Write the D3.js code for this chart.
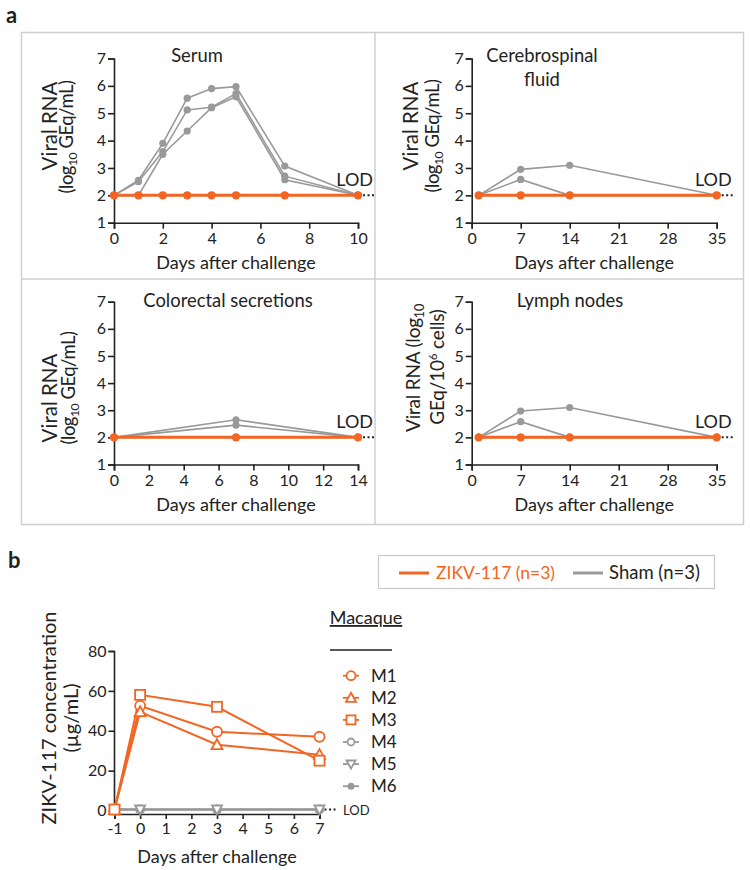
<!DOCTYPE html>
<html><head><meta charset="utf-8">
<script src="https://cdn.jsdelivr.net/npm/d3@7"></script>
<style>body{margin:0;background:#fff}svg{display:block}text{font-family:Lato,"Open Sans",sans-serif;fill:#222}</style>
</head><body>
<svg id="c" width="750" height="870"></svg>
<script>
// ---------- DATA ----------
const serumDays = [0,1,2,3,4,5,7,10];
const serumSham1 = [2,2.55,3.9,5.55,5.9,5.97,3.07,2];
const serumSham2 = [2,2.5,3.6,5.12,5.22,5.72,2.7,2];
const serumSham3 = [2,2.0,3.5,4.35,5.2,5.6,2.57,2];
const serumZikv  = [2,2,2,2,2,2,2,2];

const csfDays = [1,7,14,35];
const csfSham1 = [2,2.95,3.1,2];
const csfSham2 = [2,2.58,2,2];
const csfSham3 = [2,2,2,2];
const csfZikv  = [2,2,2,2];

const crDays = [0,7,14];
const crSham1 = [2,2.65,2];
const crSham2 = [2,2.45,2];
const crSham3 = [2,2,2];
const crZikv  = [2,2,2];

const lnDays = [1,7,14,35];
const lnSham1 = [2,2.97,3.1,2];
const lnSham2 = [2,2.58,2,2];
const lnSham3 = [2,2,2,2];
const lnZikv  = [2,2,2,2];

const yTicksA = [1,2,3,4,5,6,7];
const serumTicks = [0,2,4,6,8,10];
const weekTicks = [0,7,14,21,28,35];
const crTicks = [0,2,4,6,8,10,12,14];

const bDays = [-1,0,3,7];
const bM1 = [0.5,52.5,39.5,37];
const bM2 = [0.5,49.5,33,28];
const bM3 = [0.5,58,52,25];
const bM4 = [0.5,0.5,0.5,0.5];
const bM5 = [0.5,0.5,0.5,0.5];
const bM6 = [0.5,0.5,0.5,0.5];
const bXTicks = [-1,0,1,2,3,4,5,6,7];
const bYTicks = [0,20,40,60,80];
const macaques = ["M1","M2","M3","M4","M5","M6"];

const ORANGE = "#f26522", GRAY = "#999999", AX = "#222";
const fmt = d => String(d).replace("\u2212","-");

// ---------- DRAW ----------
const svg = d3.select("#c");
svg.append("text").attr("x",6).attr("y",23).attr("font-size",22).attr("font-weight","bold").text("a");
svg.append("text").attr("x",8).attr("y",568).attr("font-size",22).attr("font-weight","bold").text("b");

// panel a frame
svg.append("rect").attr("x",21.5).attr("y",32.5).attr("width",722).attr("height",492).attr("fill","none").attr("stroke","#cfcfcf").attr("stroke-width",1.5);
svg.append("line").attr("x1",375).attr("x2",375).attr("y1",32.5).attr("y2",524.5).attr("stroke","#cfcfcf").attr("stroke-width",1.5);
svg.append("line").attr("x1",21.5).attr("x2",743.5).attr("y1",279).attr("y2",279).attr("stroke","#cfcfcf").attr("stroke-width",1.5);

function ylabel(g, x, y, lines, sizes, ls){
  lines.forEach((parts,i)=>{
    const fs = sizes[i];
    const t = g.append("text").attr("transform",`translate(${x[i]},${y[i]}) rotate(-90)`).attr("text-anchor","middle").attr("font-size",fs);
    if(ls && ls[i]) t.attr("letter-spacing",ls[i]);
    parts.forEach(p=>{
      const ts = t.append("tspan").text(p.t);
      if(p.sub){ts.attr("font-size",fs*0.66).attr("dy",4);}
      if(p.sup){ts.attr("font-size",fs*0.62).attr("dy",-7);}
      if(p.back){ts.attr("dy",p.back);}
    });
  });
}

function panel(cfg){
  const g = svg.append("g");
  const x = d3.scaleLinear().domain(cfg.xd).range([cfg.x0,cfg.x1]);
  const y = d3.scaleLinear().domain([1,7]).range([cfg.yb,cfg.yt]);
  const ya = g.append("g").attr("transform",`translate(${cfg.x0},0)`).call(d3.axisLeft(y).tickValues(yTicksA).tickSize(6).tickPadding(2).tickFormat(fmt));
  const xa = g.append("g").attr("transform",`translate(0,${cfg.yb})`).call(d3.axisBottom(x).tickValues(cfg.ticks).tickSize(6).tickPadding(4).tickFormat(fmt));
  [ya,xa].forEach(a=>{a.select(".domain").attr("stroke",AX).attr("stroke-width",1.6);
    a.selectAll(".tick line").attr("stroke",AX).attr("stroke-width",1.6);
    a.selectAll(".tick text").attr("font-size",16).attr("fill","#222").attr("font-family","Lato");});
  g.append("text").attr("x",(cfg.x0+cfg.x1)/2).attr("y",cfg.yb+46).attr("text-anchor","middle").attr("font-size",18).text("Days after challenge");
  cfg.title.forEach((t,i)=>g.append("text").attr("x",cfg.tx).attr("y",cfg.ty+i*24).attr("text-anchor","middle").attr("font-size",18.4).text(t));
  const line = d3.line().x(d=>x(d[0])).y(d=>y(d[1]));
  cfg.sham.forEach(s=>{
    const pts = cfg.days.map((d,i)=>[d,s[i]]);
    g.append("path").attr("d",line(pts)).attr("fill","none").attr("stroke",GRAY).attr("stroke-width",1.6);
    g.selectAll(null).data(pts).join("circle").attr("cx",d=>x(d[0])).attr("cy",d=>y(d[1])).attr("r",3.6).attr("fill",GRAY);
  });
  const zp = cfg.days.map((d,i)=>[d,cfg.zikv[i]]);
  g.append("path").attr("d",line(zp)).attr("fill","none").attr("stroke",ORANGE).attr("stroke-width",3);
  g.selectAll(null).data(zp).join("circle").attr("cx",d=>x(d[0])).attr("cy",d=>y(d[1])).attr("r",4.2).attr("fill",ORANGE);
  // LOD
  g.append("line").attr("x1",x(cfg.xd[1])+5).attr("x2",x(cfg.xd[1])+18).attr("y1",y(2)).attr("y2",y(2)).attr("stroke",AX).attr("stroke-width",2).attr("stroke-dasharray","2,2.5");
  g.append("text").attr("x",x(cfg.xd[1])+15).attr("y",y(2)-9).attr("text-anchor","end").attr("font-size",18).text("LOD");
  return g;
}

const top0=58.5, top1=222.7, bot0=301.7, bot1=464.5;
const L0=114, L1=358, R0=471.7, R1=716.7;

panel({x0:L0,x1:L1,yt:top0,yb:top1,xd:[0,10],ticks:serumTicks,days:serumDays,sham:[serumSham1,serumSham2,serumSham3],zikv:serumZikv,title:["Serum"],tx:197,ty:62});
panel({x0:R0,x1:R1,yt:top0,yb:top1,xd:[0,35],ticks:weekTicks,days:csfDays,sham:[csfSham1,csfSham2,csfSham3],zikv:csfZikv,title:["Cerebrospinal","fluid"],tx:542,ty:62});
panel({x0:L0,x1:L1,yt:bot0,yb:bot1,xd:[0,14],ticks:crTicks,days:crDays,sham:[crSham1,crSham2,crSham3],zikv:crZikv,title:["Colorectal secretions"],tx:228,ty:307});
panel({x0:R0,x1:R1,yt:bot0,yb:bot1,xd:[0,35],ticks:weekTicks,days:lnDays,sham:[lnSham1,lnSham2,lnSham3],zikv:lnZikv,title:["Lymph nodes"],tx:570,ty:307});

const lab2 = [{t:"(log"},{t:"10",sub:true},{t:" GEq/mL)",back:-4}];
ylabel(svg,[57,73],[126,137],[[{t:"Viral RNA"}],lab2],[20.5,18.5],[0,-0.5]);
ylabel(svg,[418,439],[126,136],[[{t:"Viral RNA"}],lab2],[20.5,18.5],[0,-0.5]);
ylabel(svg,[57,75],[398,388],[[{t:"Viral RNA"}],lab2],[20.5,18.5],[0,-0.5]);
ylabel(svg,[420,444],[368,367],[[{t:"Viral RNA (log"},{t:"10",sub:true}],[{t:"GEq/10"},{t:"6",sup:true},{t:" cells)",back:7}]],[19,19],[-0.2,-0.2]);

// legend box
const lg = svg.append("g");
lg.append("rect").attr("x",378.5).attr("y",555.5).attr("width",336).attr("height",33).attr("fill","none").attr("stroke","#c8c8c8").attr("stroke-width",1.2);
lg.append("line").attr("x1",399).attr("x2",429).attr("y1",573).attr("y2",573).attr("stroke",ORANGE).attr("stroke-width",3);
lg.append("text").attr("x",436).attr("y",579).attr("font-size",17.5).style("fill",ORANGE).text("ZIKV-117 (n=3)");
lg.append("line").attr("x1",573).attr("x2",603).attr("y1",573).attr("y2",573).attr("stroke",GRAY).attr("stroke-width",3);
lg.append("text").attr("x",609).attr("y",579).attr("font-size",18.5).text("Sham (n=3)");

// panel b
const gb = svg.append("g");
const xb = d3.scaleLinear().domain([-1,7]).range([114.5,319.5]);
const yb = d3.scaleLinear().domain([0,80]).range([810.5,651]);
const ybAx = gb.append("g").attr("transform","translate(114.5,0)").call(d3.axisLeft(yb).tickValues(bYTicks).tickSize(6).tickPadding(2).tickFormat(fmt));
const xbAx = gb.append("g").attr("transform","translate(0,814)").call(d3.axisBottom(xb).tickValues(bXTicks).tickSize(5).tickPadding(4).tickFormat(fmt));
ybAx.select(".domain").attr("d","M-6,651.5H0V814");
[ybAx,xbAx].forEach(a=>{a.select(".domain").attr("stroke",AX).attr("stroke-width",1.6);
  a.selectAll(".tick line").attr("stroke",AX).attr("stroke-width",1.6);
  a.selectAll(".tick text").attr("font-size",16).attr("fill","#222").attr("font-family","Lato");});
gb.append("text").attr("x",217).attr("y",863).attr("text-anchor","middle").attr("font-size",18).text("Days after challenge");
ylabel(svg,[56,78],[718,718],[[{t:"ZIKV-117 concentration"}],[{t:"(µg/mL)"}]],[20,20]);

const series = [
  {v:bM4,c:GRAY,s:"circle",fill:"#fff",sz:4},
  {v:bM6,c:GRAY,s:"dot",fill:GRAY,sz:3.5},
  {v:bM5,c:GRAY,s:"tri-down",fill:"#fff",sz:5},
  {v:bM1,c:ORANGE,s:"circle",fill:"#fff",sz:5},
  {v:bM2,c:ORANGE,s:"tri",fill:"#fff",sz:5.5},
  {v:bM3,c:ORANGE,s:"square",fill:"#fff",sz:5}
];
function marker(g,cx,cy,s,c,fill,sz){
  if(s==="circle"||s==="dot") return g.append("circle").attr("cx",cx).attr("cy",cy).attr("r",sz).attr("fill",fill).attr("stroke",c).attr("stroke-width",s==="dot"?0:1.8);
  if(s==="square") return g.append("rect").attr("x",cx-sz).attr("y",cy-sz).attr("width",2*sz).attr("height",2*sz).attr("fill",fill).attr("stroke",c).attr("stroke-width",1.8);
  if(s==="tri") return g.append("path").attr("d",`M${cx},${cy-sz}L${cx+sz},${cy+sz*0.8}L${cx-sz},${cy+sz*0.8}Z`).attr("fill",fill).attr("stroke",c).attr("stroke-width",1.8);
  if(s==="tri-down") return g.append("path").attr("d",`M${cx},${cy+sz}L${cx+sz},${cy-sz*0.8}L${cx-sz},${cy-sz*0.8}Z`).attr("fill",fill).attr("stroke",c).attr("stroke-width",1.8);
}
const lineB = d3.line().x(d=>xb(d[0])).y(d=>yb(d[1]));
// LOD dotted
gb.append("line").attr("x1",xb(7)-12).attr("x2",xb(7)).attr("y1",yb(0.5)).attr("y2",yb(0.5)).attr("stroke",GRAY).attr("stroke-width",2).attr("stroke-dasharray","2,2");
gb.append("line").attr("x1",xb(7)+5).attr("x2",xb(7)+18).attr("y1",yb(0.5)).attr("y2",yb(0.5)).attr("stroke",AX).attr("stroke-width",2).attr("stroke-dasharray","2,2.5");
gb.append("text").attr("x",343).attr("y",815).attr("font-size",13).text("LOD");
series.forEach(sr=>{
  const pts = bDays.map((d,i)=>[d,sr.v[i]]);
  gb.append("path").attr("d",lineB(pts)).attr("fill","none").attr("stroke",sr.c).attr("stroke-width",sr.c===ORANGE?2:1.8);
});
series.forEach(sr=>{
  bDays.forEach((d,i)=>marker(gb,xb(d),yb(sr.v[i]),sr.s,sr.c,sr.fill,sr.sz));
});

// macaque legend
const ml = svg.append("g");
ml.append("text").attr("x",366).attr("y",624).attr("text-anchor","middle").attr("font-size",18).attr("text-decoration","underline").text("Macaque");
ml.append("line").attr("x1",330).attr("x2",392).attr("y1",650).attr("y2",650).attr("stroke",AX).attr("stroke-width",1.5);
const legOrder = [
  {c:ORANGE,s:"circle",fill:"#fff",sz:4.5},
  {c:ORANGE,s:"tri",fill:"#fff",sz:5},
  {c:ORANGE,s:"square",fill:"#fff",sz:4.5},
  {c:GRAY,s:"circle",fill:"#fff",sz:3.5},
  {c:GRAY,s:"tri-down",fill:"#fff",sz:4.5},
  {c:GRAY,s:"dot",fill:GRAY,sz:3.5}
];
macaques.forEach((m,i)=>{
  const yy = 675.7 + i*22.1;
  const o = legOrder[i];
  ml.append("line").attr("x1",343).attr("x2",359).attr("y1",yy).attr("y2",yy).attr("stroke",o.c).attr("stroke-width",1.8);
  marker(ml,351,yy,o.s,o.c,o.fill,o.sz);
  ml.append("text").attr("x",371).attr("y",yy+6).attr("font-size",17).text(m);
});
</script>
</body></html>
